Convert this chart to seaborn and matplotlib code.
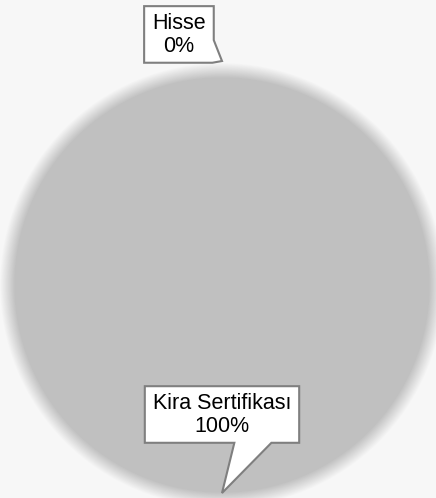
import seaborn as sns
import matplotlib.pyplot as plt
from matplotlib.patches import Circle, Polygon
import numpy as np

# data
labels = ['Hisse', 'Kira Sertifikası']
values = [0, 100]
colors = ['#4472c4', '#c0c0c0']

# label placement (data units, pie radius = 1)
label_xy = [(-0.208, 1.208), (0.0, -0.628)]
tip_r = [1.082, 1.005]

sns.set_style('white')
plt.rcParams['font.family'] = ['Liberation Sans', 'DejaVu Sans']

W, H = 436, 498
R, CX, CY = 207, 222, 285   # pie radius/centre in pixels (from top-left)
fig = plt.figure(figsize=(W / 100, H / 100), dpi=100)
fig.patch.set_facecolor('#f7f7f7')
ax = fig.add_axes([0, 0, 1, 1])


def set_view():
    ax.set_xlim(-CX / R, (W - CX) / R)
    ax.set_ylim(-(H - CY) / R, CY / R)
    ax.set_aspect('equal')
    ax.axis('off')


set_view()

# soft glow behind the pie
for i in range(18):
    ax.add_patch(Circle((0, 0), 1.0 + 0.004 * (i + 1), color='black',
                        alpha=0.011, lw=0, zorder=0))

wedges, _ = ax.pie(values, colors=colors, startangle=90, counterclock=False,
                   wedgeprops=dict(linewidth=0), frame=True)
for w in wedges:
    w.set_zorder(2)
set_view()

total = sum(values)
texts = []
for i, (lab, val) in enumerate(zip(labels, values)):
    t = ax.text(label_xy[i][0], label_xy[i][1], f'{lab}\n{val / total:.0%}',
                ha='center', va='center', fontsize=15.5, color='black',
                linespacing=1.1, zorder=6)
    texts.append(t)

fig.canvas.draw()
inv = ax.transData.inverted()
for i, (t, w) in enumerate(zip(texts, wedges)):
    bb = t.get_window_extent()
    x0, x1 = bb.x0 - 8, bb.x1 + 8
    y0, y1 = bb.y0 - 6, bb.y1 + 7
    bw, bh = x1 - x0, y1 - y0
    ang = np.deg2rad((w.theta1 + w.theta2) / 2)
    tip = tuple(ax.transData.transform((tip_r[i] * np.cos(ang), tip_r[i] * np.sin(ang))))
    if i == 0:
        # small label: tail on the lower right corner
        pts = [(x0, y1), (x1, y1), (x1, y0 + 0.40 * bh), tip,
               (x0 + 0.98 * bw, y0), (x0, y0)]
    else:
        pts = [(x0, y1), (x1, y1), (x1, y0), (x0 + 0.82 * bw, y0), tip,
               (x0 + 0.58 * bw, y0), (x0, y0)]
    ax.add_patch(Polygon(inv.transform(pts), closed=True, fc='white',
                         ec='#7f7f7f', lw=1.5, zorder=5, joinstyle='miter'))

fig.savefig('out.png', dpi=100, facecolor=fig.get_facecolor())
